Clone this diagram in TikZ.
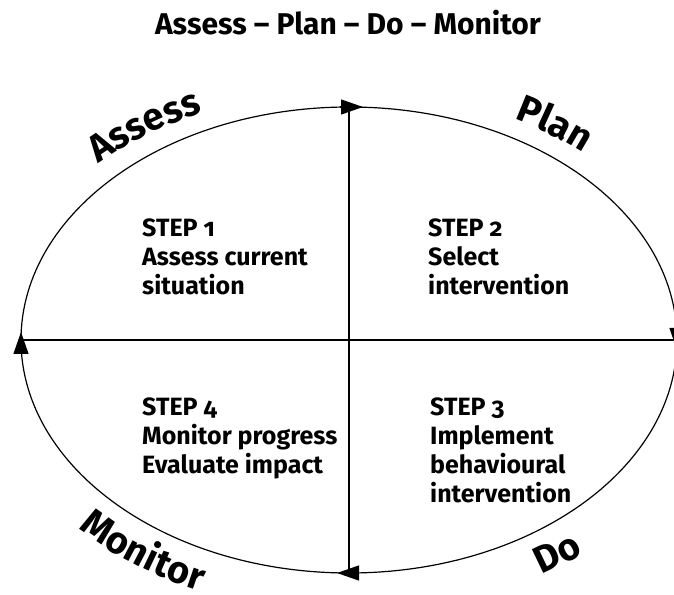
\documentclass[tikz,border=0pt]{standalone}
\usepackage{fontspec}
\setmainfont{Fira Sans}
\newfontfamily\fira[Numbers=OldStyle]{Fira Sans}
\usetikzlibrary{arrows.meta,decorations.text,calc}
\newcommand{\curvefont}{\fira\bfseries\fontsize{38}{40}\selectfont}
\begin{document}
\begin{tikzpicture}[x=1pt,y=1pt,
  axis/.style={line width=1.3pt},
  rim/.style={line width=1.2pt},
  tip/.style={-{Triangle[length=22pt,width=15pt]}, line width=1.2pt},
  steptext/.style={anchor=north west, inner sep=0pt, align=left, font=\fira\bfseries\fontsize{25}{29}\selectfont},
  arclabel/.style={decorate, decoration={text along path, text align=center, text={|\curvefont|#1}}}
]
\useasboundingbox (0,0) rectangle (674,594);
\clip (0,0) rectangle (674,594);
\coordinate (C) at (349,254);
\coordinate (T) at (349,487);
\coordinate (B) at (349,21);
\coordinate (L) at (21,254);
\coordinate (R) at (677,254);
\draw[rim] (C) ellipse [x radius=328, y radius=233];
\draw[axis] (L) -- (R);
\draw[axis] (T) -- (B);
\draw[tip] ($(T)+(-9,0)$) -- ($(T)+(14,0)$);
\draw[tip] ($(B)+(9,0)$) -- ($(B)+(-12,0)$);
\draw[tip] ($(L)+(0,-13)$) -- ($(L)+(0,8)$);
\draw[tip] ($(R)+(0,12)$) -- ($(R)+(0,-10)$);
\path[arclabel=Assess] ($(C)+(150:353 and 250)$) arc[start angle=150, end angle=102, x radius=353, y radius=250];
\path[arclabel=Plan] ($(C)+(78:353 and 250)$) arc[start angle=78, end angle=30, x radius=353, y radius=250];
\path[arclabel=Monitor] ($(C)+(210:373 and 274)$) arc[start angle=210, end angle=258, x radius=373, y radius=274];
\path[arclabel=Do] ($(C)+(290:373 and 274)$) arc[start angle=290, end angle=321, x radius=373, y radius=274];
\node[font=\fira\bfseries\fontsize{30}{36}\selectfont, anchor=base] (title) at (348,559) {Assess – Plan – Do – Monitor};
\node[steptext] (s1) at (142,375) {STEP 1\\Assess current\\situation};
\node[steptext] (s2) at (428,375) {STEP 2\\Select\\intervention};
\node[steptext] (s4) at (142,196) {STEP 4\\Monitor progress\\Evaluate impact};
\node[steptext] (s3) at (430,196) {STEP 3\\Implement\\behavioural\\intervention};
\end{tikzpicture}
\end{document}
